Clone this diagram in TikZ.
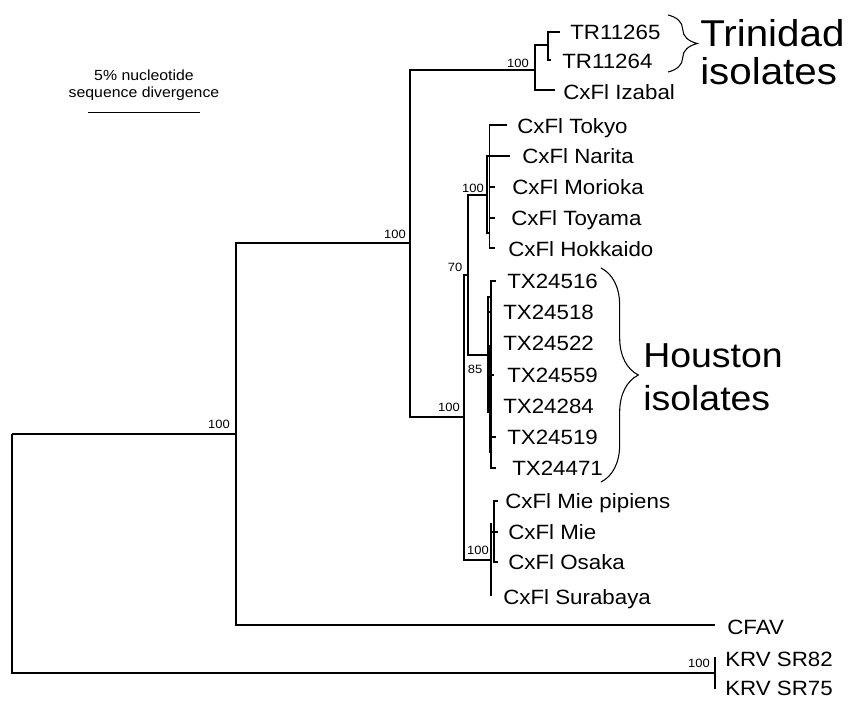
\documentclass[tikz,border=0pt]{standalone}
\usepackage{fontspec}
\setmainfont{Liberation Sans}[FakeStretch=1.08]
\usetikzlibrary{decorations.pathreplacing}
\begin{document}
\begin{tikzpicture}[x=0.75pt,y=-0.75pt,
  br/.style={line width=0.95pt},
  thickbr/.style={line width=2.2pt},
  leaflab/.style={anchor=west,inner sep=0pt,font=\fontsize{15.5}{17}\selectfont,text height=11.1pt,text depth=0pt},
  bslab/.style={inner sep=0pt,font=\fontsize{9}{10}\selectfont},
  biglab/.style={anchor=base west,inner sep=0pt},
  sclab/.style={anchor=base,inner sep=0pt,font=\fontsize{11}{12}\selectfont},
  bracestyle/.style={decorate,decoration={brace,amplitude=#1},line width=0.8pt}
]
\useasboundingbox (0,0) rectangle (848,700);
% internal nodes
\coordinate (R) at (12,434);
\coordinate (A) at (236,434);
\coordinate (K) at (715,673);
\coordinate (B) at (410,243);
\coordinate (cfavE) at (715,625);
\coordinate (C) at (535,70);
\coordinate (D) at (464,417);
\coordinate (C1) at (548,45);
\coordinate (izaE) at (555,90);
\coordinate (tr65E) at (560,32);
\coordinate (tr64E) at (551,60);
\coordinate (E) at (468,275);
\coordinate (M) at (491,560);
\coordinate (J) at (487,195);
\coordinate (H) at (488,355);
\coordinate (J2) at (489.5,233);
\coordinate (narE) at (510,156);
\coordinate (tokE) at (507,125);
\coordinate (morE) at (495,187);
\coordinate (toyE) at (495,218);
\coordinate (hokE) at (495,248);
\coordinate (H2) at (491,297);
\coordinate (H3) at (488,413);
\coordinate (t16E) at (496,281);
\coordinate (t71E) at (496,468);
\coordinate (t18E) at (492,312);
\coordinate (h3a) at (490,345);
\coordinate (h3b) at (490,453);
\coordinate (t59E) at (494,375);
\coordinate (t19E) at (496,437);
\coordinate (surE) at (492,595);
\coordinate (mtop) at (491,523);
\coordinate (M2) at (494,532);
\coordinate (pipE) at (498,501);
\coordinate (osaE) at (498,562);
\coordinate (mieE) at (498,532);
\coordinate (k82E) at (716,658);
\coordinate (k75E) at (716,688);
% branches
\draw[br] (R) -- (A);
\draw[br] (R) |- (K);
\draw[br] (A) |- (B);
\draw[br] (A) |- (cfavE);
\draw[br] (B) |- (C);
\draw[br] (B) |- (D);
\draw[br] (C) |- (C1);
\draw[br] (C) |- (izaE);
\draw[br] (C1) |- (tr65E);
\draw[br] (C1) |- (tr64E);
\draw[br] (D) |- (E);
\draw[br] (D) |- (M);
\draw[br] (E) |- (J);
\draw[br] (E) |- (H);
\draw[br] (J) |- (narE);
\draw[br] (J) |- (J2);
\draw[br] (J2) |- (tokE);
\draw[br] (J2) |- (hokE);
\draw[br] (J2) |- (morE);
\draw[br] (J2) |- (toyE);
\draw[br] (H) |- (H2);
\draw[br] (H) -- (H3);
\draw[br] (H) |- (t18E);
\draw[br] (H2) |- (t16E);
\draw[br] (H2) |- (t71E);
\draw[thickbr] (h3a) -- (h3b);
\draw[br] (h3a) |- (t59E);
\draw[br] (h3a) |- (t19E);
\draw[br] (M) |- (surE);
\draw[thickbr] (M) -- (mtop);
\draw[br] (M) |- (M2);
\draw[br] (M2) |- (pipE);
\draw[br] (M2) |- (osaE);
\draw[br] (M2) -- (mieE);
\draw[br] (K) |- (k82E);
\draw[br] (K) |- (k75E);
% leaf labels
\node[leaflab] (tr65) at (570,32) {TR11265};
\node[leaflab] (tr64) at (562,61) {TR11264};
\node[leaflab] (iza) at (563,92) {CxFl Izabal};
\node[leaflab] (tok) at (517,126) {CxFl Tokyo};
\node[leaflab] (nar) at (522,156) {CxFl Narita};
\node[leaflab] (mor) at (512,187) {CxFl Morioka};
\node[leaflab] (toy) at (511,218) {CxFl Toyama};
\node[leaflab] (hok) at (508,249) {CxFl Hokkaido};
\node[leaflab] (x16) at (507,281) {TX24516};
\node[leaflab] (x18) at (503,312) {TX24518};
\node[leaflab] (x22) at (503,343) {TX24522};
\node[leaflab] (x59) at (507,375) {TX24559};
\node[leaflab] (x84) at (503,406) {TX24284};
\node[leaflab] (x19) at (507,437) {TX24519};
\node[leaflab] (x71) at (512,468) {TX24471};
\node[leaflab] (pip) at (505,501) {CxFl Mie pipiens};
\node[leaflab] (mie) at (508,532) {CxFl Mie};
\node[leaflab] (osa) at (508,562) {CxFl Osaka};
\node[leaflab] (sur) at (503,597) {CxFl Surabaya};
\node[leaflab] (cfav) at (727,627) {CFAV};
\node[leaflab] (k82) at (725,659) {KRV SR82};
\node[leaflab] (k75) at (725,688) {KRV SR75};
% bootstrap values
\node[bslab] (bs1) at (219,424) {100};
\node[bslab] (bs2) at (395,234) {100};
\node[bslab] (bs3) at (518,63) {100};
\node[bslab] (bs4) at (449,407) {100};
\node[bslab] (bs5) at (455,267) {70};
\node[bslab] (bs6) at (473,188) {100};
\node[bslab] (bs7) at (475,369) {85};
\node[bslab] (bs8) at (478,550) {100};
\node[bslab] (bs9) at (699,663) {100};
% braces and group labels
\coordinate (trbT) at (668,15);
\coordinate (trbB) at (668,72);
\draw[bracestyle=22pt] (trbT) -- (trbB);
\coordinate (hobT) at (601,268);
\coordinate (hobB) at (601,482);
\draw[bracestyle=28pt] (hobT) -- (hobB);
\node[biglab,font=\fontsize{28}{30}\selectfont] (trin1) at (700,46) {Trinidad};
\node[biglab,font=\fontsize{28}{30}\selectfont] (trin2) at (700,84) {isolates};
\node[biglab,font=\fontsize{26}{28}\selectfont] (hou1) at (643,367) {Houston};
\node[biglab,font=\fontsize{26}{28}\selectfont] (hou2) at (643,410) {isolates};
% scale bar
\node[sclab] (sb1) at (144,80) {5\% nucleotide};
\node[sclab] (sb2) at (144,97) {sequence divergence};
\coordinate (sbL) at (88,112);
\coordinate (sbR) at (200,112);
\draw[line width=0.7pt] (sbL) -- (sbR);
\end{tikzpicture}
\end{document}
